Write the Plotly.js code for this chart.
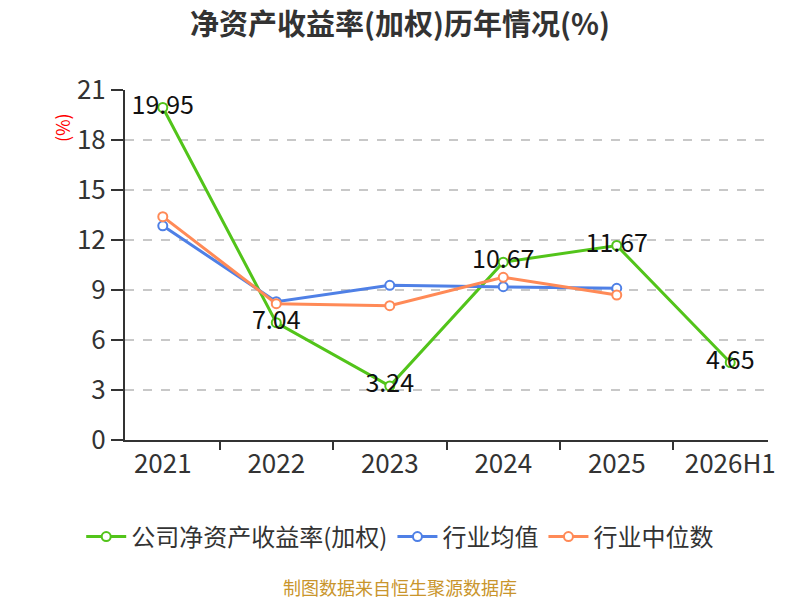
<!DOCTYPE html>
<html>
<head>
<meta charset="utf-8">
<script src="https://cdn.plot.ly/plotly-3.0.1.min.js"></script>
<style>
  html, body { margin: 0; padding: 0; background: #fff; }
  #chart { width: 800px; height: 600px; }
</style>
</head>
<body>
<div id="chart"></div>
<script>
// years on the x axis
const years = ["2021", "2022", "2023", "2024", "2025", "2026H1"];

// weighted ROE, company (%)
const company_roe = [19.95, 7.04, 3.24, 10.67, 11.67, 4.65];
// industry mean / median (%), no 2026H1 value
const industry_avg = [12.85, 8.3, 9.28, 9.2, 9.1, null];
const industry_median = [13.4, 8.18, 8.06, 9.76, 8.7, null];

const font_family = '"Noto Sans CJK SC", "Noto Sans", sans-serif';

function make_trace(name, values, color, with_labels)
{
    const trace = {
        x: years,
        y: values,
        name: name,
        type: "scatter",
        mode: with_labels ? "lines+markers+text" : "lines+markers",
        line: {color: color, width: 3},
        marker: {size: 9, color: "#ffffff", line: {color: color, width: 2}},
        cliponaxis: false,
        hoverinfo: "x+y"
    };
    if (with_labels) {
        trace.text = values.map((v) => v.toFixed(2));
        trace.textposition = "middle center";
        trace.textfont = {size: 25, color: "#111111", family: font_family};
    }
    return trace;
}

const traces = [
    make_trace("公司净资产收益率(加权)", company_roe, "#52c41a", true),
    make_trace("行业均值", industry_avg, "#4f80e6", false),
    make_trace("行业中位数", industry_median, "#ff8a57", false)
];

const layout = {
    width: 800,
    height: 600,
    margin: {l: 125, r: 32, t: 90, b: 160},
    paper_bgcolor: "#ffffff",
    plot_bgcolor: "#ffffff",
    font: {family: font_family, color: "#333333"},
    title: {
        text: "<b>净资产收益率(加权)历年情况(%)</b>",
        x: 0.5, xref: "container", xanchor: "center",
        y: 0.958, yanchor: "middle",
        font: {size: 29, color: "#333333", family: font_family}
    },
    xaxis: {
        type: "category",
        showline: true, linecolor: "#333333", linewidth: 2,
        ticks: "outside", tickson: "boundaries", ticklen: 8, tickwidth: 2, tickcolor: "#333333",
        tickfont: {size: 26, color: "#333333"},
        tickangle: 0,
        showgrid: false, zeroline: false,
        automargin: false,
        fixedrange: true
    },
    yaxis: {
        range: [0, 21], dtick: 3, tick0: 0,
        showline: true, linecolor: "#333333", linewidth: 2,
        ticks: "outside", ticklen: 12, tickwidth: 2, tickcolor: "#333333",
        tickfont: {size: 26, color: "#333333"},
        showgrid: true, gridcolor: "#c8c8c8", griddash: "dash", gridwidth: 1.5,
        zeroline: false,
        automargin: false,
        fixedrange: true
    },
    showlegend: true,
    legend: {
        orientation: "h",
        x: 0.428, xanchor: "center",
        y: -0.277, yanchor: "middle",
        font: {size: 24, color: "#333333"},
        itemwidth: 40,
        tracegroupgap: 0
    },
    annotations: [
        {
            text: "(%)", xref: "paper", yref: "paper",
            x: -0.098, y: 0.894, xanchor: "center", yanchor: "middle",
            textangle: -90, showarrow: false,
            font: {size: 18, color: "#ff0000"}
        },
        {
            text: "制图数据来自恒生聚源数据库", xref: "paper", yref: "paper",
            x: 0.428, y: -0.42, xanchor: "center", yanchor: "middle",
            showarrow: false,
            font: {size: 18, color: "#c9952c"}
        }
    ]
};

Plotly.newPlot("chart", traces, layout, {displayModeBar: false, staticPlot: true});
</script>
</body>
</html>
